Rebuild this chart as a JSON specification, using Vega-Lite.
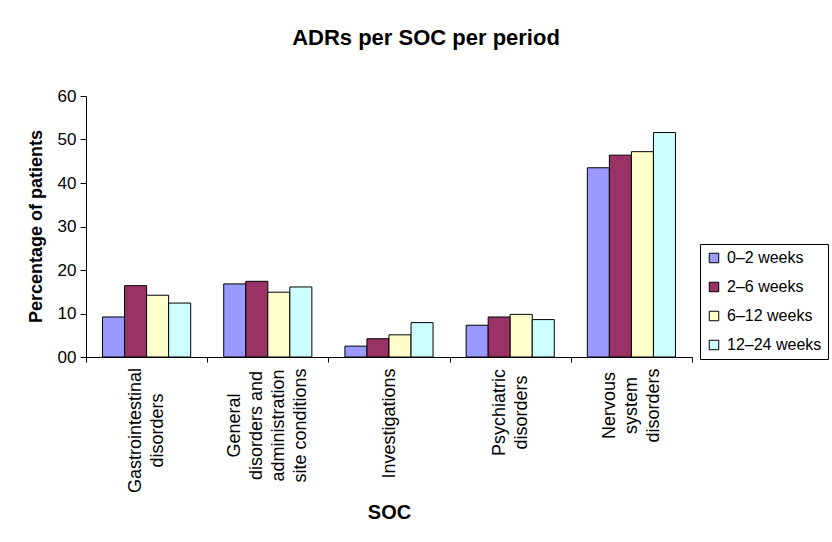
{
  "$schema": "https://vega.github.io/schema/vega-lite/v6.json",
  "autosize": {"type": "none"},
  "padding": {"left": 86, "top": 96, "right": 140, "bottom": 185},
  "width": 606,
  "height": 261,
  "background": "white",
  "title": {
    "text": "ADRs per SOC per period",
    "font": "Liberation Sans",
    "fontSize": 22,
    "fontWeight": "bold",
    "color": "black",
    "anchor": "middle",
    "frame": "group",
    "dx": 37,
    "offset": 37
  },
  "config": {
    "view": {"stroke": null},
    "font": "Liberation Sans"
  },
  "data": {
    "values": [
      {"soc": "Gastrointestinal disorders", "period": "0–2 weeks", "pct": 9.2},
      {"soc": "Gastrointestinal disorders", "period": "2–6 weeks", "pct": 16.4},
      {"soc": "Gastrointestinal disorders", "period": "6–12 weeks", "pct": 14.2},
      {"soc": "Gastrointestinal disorders", "period": "12–24 weeks", "pct": 12.4},
      {"soc": "General disorders and administration site conditions", "period": "0–2 weeks", "pct": 16.8},
      {"soc": "General disorders and administration site conditions", "period": "2–6 weeks", "pct": 17.4},
      {"soc": "General disorders and administration site conditions", "period": "6–12 weeks", "pct": 14.9},
      {"soc": "General disorders and administration site conditions", "period": "12–24 weeks", "pct": 16.1},
      {"soc": "Investigations", "period": "0–2 weeks", "pct": 2.5},
      {"soc": "Investigations", "period": "2–6 weeks", "pct": 4.2},
      {"soc": "Investigations", "period": "6–12 weeks", "pct": 5.1},
      {"soc": "Investigations", "period": "12–24 weeks", "pct": 7.9},
      {"soc": "Psychiatric disorders", "period": "0–2 weeks", "pct": 7.3},
      {"soc": "Psychiatric disorders", "period": "2–6 weeks", "pct": 9.2},
      {"soc": "Psychiatric disorders", "period": "6–12 weeks", "pct": 9.8},
      {"soc": "Psychiatric disorders", "period": "12–24 weeks", "pct": 8.6},
      {"soc": "Nervous system disorders", "period": "0–2 weeks", "pct": 43.5},
      {"soc": "Nervous system disorders", "period": "2–6 weeks", "pct": 46.4},
      {"soc": "Nervous system disorders", "period": "6–12 weeks", "pct": 47.2},
      {"soc": "Nervous system disorders", "period": "12–24 weeks", "pct": 51.6}
    ]
  },
  "mark": {"type": "bar", "stroke": "black", "strokeWidth": 1},
  "encoding": {
    "x": {
      "field": "soc",
      "type": "nominal",
      "sort": null,
      "scale": {"paddingInner": 0, "paddingOuter": 0},
      "axis": {
        "title": "SOC",
        "titleFont": "Liberation Sans",
        "titleFontSize": 20,
        "titleFontWeight": "bold",
        "titleColor": "black",
        "titleBaseline": "alphabetic",
        "titleY": 161,
        "labelAngle": -90,
        "labelAlign": "center",
        "labelBaseline": "middle",
        "labelFont": "Liberation Sans",
        "labelFontSize": 18,
        "labelLineHeight": 22,
        "labelColor": "black",
        "labelPadding": {
          "condition": [
            {"test": "datum.value == 'Gastrointestinal disorders'", "value": 68},
            {"test": "datum.value == 'General disorders and administration site conditions'", "value": 63},
            {"test": "datum.value == 'Investigations'", "value": 61},
            {"test": "datum.value == 'Psychiatric disorders'", "value": 50}
          ],
          "value": 43
        },
        "labelOffset": {
          "condition": [
            {"test": "datum.value == 'General disorders and administration site conditions'", "value": -33},
            {"test": "datum.value == 'Nervous system disorders'", "value": -22},
            {"test": "datum.value == 'Investigations'", "value": 0}
          ],
          "value": -11
        },
        "labelLimit": 300,
        "tickBand": "extent",
        "tickColor": "black",
        "tickSize": 5,
        "domainColor": "black",
        "labelExpr": "datum.label == 'Gastrointestinal disorders' ? ['Gastrointestinal', 'disorders'] : datum.label == 'General disorders and administration site conditions' ? ['General', 'disorders and', 'administration', 'site conditions'] : datum.label == 'Psychiatric disorders' ? ['Psychiatric', 'disorders'] : datum.label == 'Nervous system disorders' ? ['Nervous', 'system', 'disorders'] : datum.label"
      }
    },
    "xOffset": {
      "field": "period",
      "type": "nominal",
      "sort": ["0–2 weeks", "2–6 weeks", "6–12 weeks", "12–24 weeks"],
      "scale": {"paddingInner": 0, "paddingOuter": 0.75}
    },
    "y": {
      "field": "pct",
      "type": "quantitative",
      "scale": {"domain": [0, 60], "nice": false},
      "axis": {
        "title": "Percentage of patients",
        "titleFont": "Liberation Sans",
        "titleFontSize": 18,
        "titleFontWeight": "bold",
        "titleColor": "black",
        "titleBaseline": "alphabetic",
        "titleX": -45,
        "titleY": 130,
        "titleAngle": -90,
        "titleAlign": "center",
        "values": [0, 10, 20, 30, 40, 50, 60],
        "labelExpr": "datum.value == 0 ? '00' : datum.label",
        "labelFont": "Liberation Sans",
        "labelFontSize": 17,
        "labelColor": "black",
        "labelPadding": 4,
        "tickColor": "black",
        "tickSize": 6,
        "domainColor": "black",
        "grid": false
      }
    },
    "color": {
      "field": "period",
      "type": "nominal",
      "sort": ["0–2 weeks", "2–6 weeks", "6–12 weeks", "12–24 weeks"],
      "scale": {
        "domain": ["0–2 weeks", "2–6 weeks", "6–12 weeks", "12–24 weeks"],
        "range": ["#9999FF", "#993366", "#FFFFCC", "#CCFFFF"]
      },
      "legend": {
        "title": null,
        "orient": "none",
        "legendX": 614,
        "legendY": 148,
        "strokeColor": "black",
        "fillColor": "white",
        "padding": 6,
        "symbolType": "square",
        "symbolSize": 90,
        "symbolStrokeColor": "black",
        "symbolStrokeWidth": 1,
        "symbolOpacity": 1,
        "labelFont": "Liberation Sans",
        "labelFontSize": 16,
        "labelColor": "black",
        "labelOffset": 5,
        "rowPadding": 13,
        "labelLimit": 200
      }
    }
  }
}
